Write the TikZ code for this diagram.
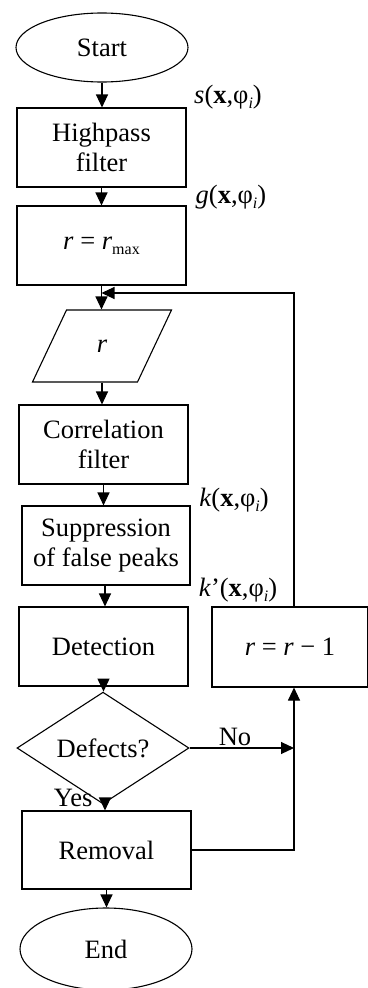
\documentclass[tikz,border=0pt]{standalone}
\usepackage{fontspec}
\setmainfont{Liberation Serif}
\usetikzlibrary{arrows.meta,shapes.geometric,calc}
\newcommand\lsub[1]{\raisebox{-0.4ex}{\fontsize{16}{16}\selectfont #1}}
\begin{document}
\begin{tikzpicture}[x=1pt,y=-1pt,
  line width=1.1pt,
  font=\fontsize{26.5}{30}\selectfont,
  box/.style={draw,rectangle,inner sep=0pt,align=center,minimum width=169pt,minimum height=79pt},
  term/.style={draw,ellipse,inner sep=0pt,minimum width=172pt},
  lbl/.style={inner sep=0pt},
  arr/.style={-{Triangle[length=13pt,width=12pt]}}]
\useasboundingbox (0,0) rectangle (367,988);
\node[term,minimum height=69pt] (start) at (102,47.5) {Start};
\node[box] (hp) at (101.5,147.5) {Highpass\\filter};
\node[box] (rmax) at (101.5,245.5) {\textit{r} = \textit{r}\lsub{max}};
\node[inner sep=0pt,minimum width=139pt,minimum height=72pt] (para) at (102,346) {\textit{r}};
\draw ($(para.center)+(-35.5,-36)$) -- ($(para.center)+(69.5,-36)$) -- ($(para.center)+(35.5,36)$) -- ($(para.center)+(-69.5,36)$) -- cycle;
\node[box] (corr) at (103.5,444.5) {Correlation\\filter};
\node[box,minimum width=168pt] (supp) at (106,545.5) {Suppression\\of false peaks};
\node[box] (det) at (103.5,646.5) {Detection};
\node[box,minimum width=156pt,minimum height=80pt] (rm1) at (290,647) {\textit{r} = \textit{r} − 1};
\node[draw,diamond,inner sep=0pt,minimum width=172pt,minimum height=84pt] (dec) at (103,748) {Defects?};
\node[box,minimum height=78pt] (rm) at (106.5,850) {Removal};
\node[term,minimum height=82pt] (endn) at (106,949) {End};
\node[lbl] (ls) at (228,97) {\textit{s}(\textbf{x},φ\lsub{\textit{i}})};
\node[lbl] (lg) at (231,197) {\textit{g}(\textbf{x},φ\lsub{\textit{i}})};
\node[lbl] (lk) at (234,500) {\textit{k}(\textbf{x},φ\lsub{\textit{i}})};
\node[lbl] (lk2) at (238,590) {\textit{k}’(\textbf{x},φ\lsub{\textit{i}})};
\node[lbl] (lno) at (235,737) {No};
\node[lbl,anchor=east] (lyes) at (93,798) {Yes};
\coordinate (fb) at (294,293);
\draw[arr] (start.south) -- (start.south |- hp.north);
\draw[arr] (hp.south) -- (hp.south |- rmax.north);
\draw[arr] (rmax.south) -- (rmax.south |- para.north);
\draw[arr] (para.south) -- (para.south |- corr.north);
\draw[arr] (corr.south) -- (corr.south |- supp.north);
\draw[arr] ($(supp.south)+(-1,0)$) -- ($(supp.south |- det.north)+(-1,0)$);
\draw[arr] (det.south) -- (det.south |- dec.north);
\draw[arr] ($(dec.south)+(2,0)$) -- ($(dec.south |- rm.north)+(2,0)$);
\draw[arr] (rm.south) -- (rm.south |- endn.north);
\draw[arr] (rm1.north -| fb) -- (fb) -- (rmax.south |- fb);
\draw[arr] (dec.east) -- (dec.east -| fb);
\draw[arr] (rm.east) -- (rm.east -| fb) -- (rm1.south -| fb);
\end{tikzpicture}
\end{document}
